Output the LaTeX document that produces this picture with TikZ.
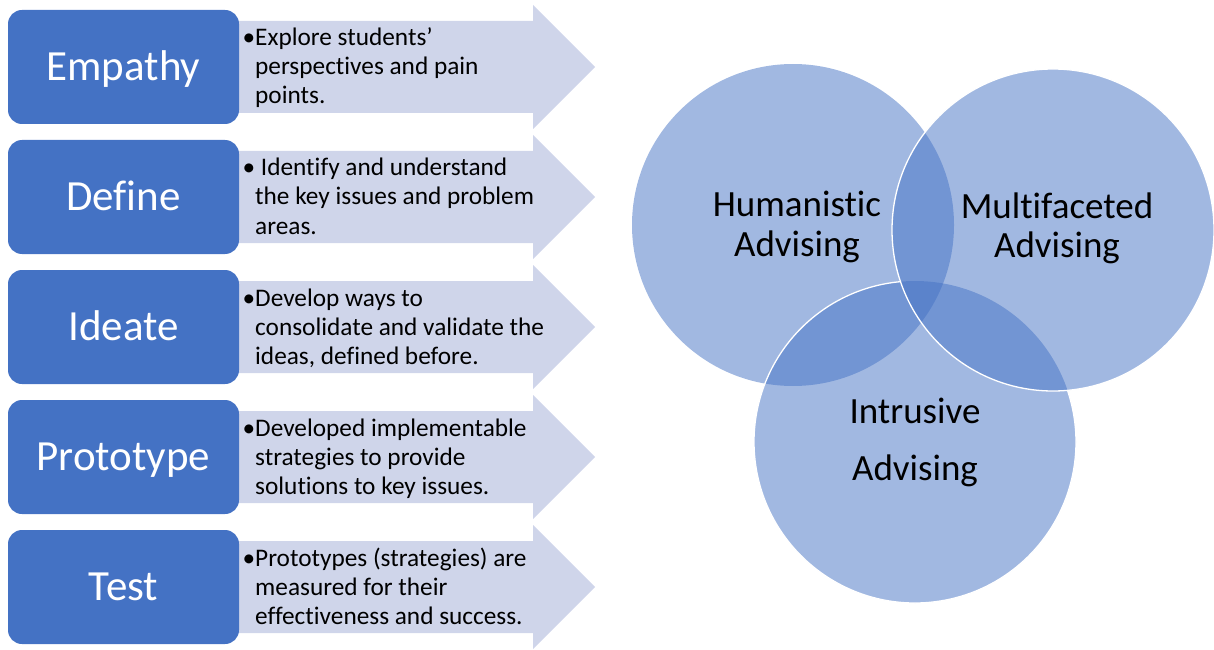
\documentclass[tikz,border=0pt]{standalone}
\usepackage{fontspec}
\setmainfont{Carlito}[Ligatures={NoCommon}]
\definecolor{stageblue}{HTML}{4472C4}
\definecolor{arrowtint}{HTML}{CFD5EA}
\tikzset{
  stagebox/.style={rectangle, rounded corners=14pt, fill=stageblue, text=white,
    minimum width=231pt, minimum height=114pt, inner sep=0pt,
    text height=27.5pt, text depth=0pt, font=\fontsize{43}{47}\selectfont},
  arrowbody/.style={fill=arrowtint},
  desc/.style={anchor=base west, inner sep=0pt, text=black,
    font=\fontsize{25.3}{29}\selectfont},
  venn/.style={circle, minimum size=322pt, inner sep=0pt,
    fill=stageblue, fill opacity=0.5},
  ring/.style={draw=white, line width=1.3pt},
  vlabel/.style={anchor=base, inner sep=0pt, text=black,
    font=\fontsize{37}{39}\selectfont}
}
% chevron-shaped banner behind each stage box, centred at height #1
\newcommand{\stagearrow}[1]{%
  \fill[arrowbody] (239,#1+46) -- (533,#1+46) -- (533,#1+62) -- (595,#1)
    -- (533,#1-62) -- (533,#1-46) -- (239,#1-46) -- cycle;}
% hanging bullet in front of the first line of a banner text
\newcommand{\hbul}{\leavevmode\llap{•}}
\begin{document}
\begin{tikzpicture}[x=1pt,y=1pt]
\useasboundingbox (0,0) rectangle (1214,649);

% banners
\stagearrow{582}
\stagearrow{452}
\stagearrow{322}
\stagearrow{192}
\stagearrow{62}

% stage boxes
\node[stagebox] (empathy)   at (123.5,582) {Empathy};
\node[stagebox] (define)    at (123.5,452) {Define};
\node[stagebox] (ideate)    at (123.5,322) {Ideate};
\node[stagebox] (prototype) at (123.5,192) {Prototype};
\node[stagebox] (test)      at (123.5,62)  {Test};

% banner texts
\node[desc] (d-empathy) at (255,603) {\parbox[t]{330pt}{\hbul Explore students’\\perspectives and pain\\points.}};
\node[desc] (d-define) at (255,473) {\parbox[t]{330pt}{\hbul\ Identify and understand\\the key issues and problem\\areas.}};
\node[desc] (d-ideate) at (255,343) {\parbox[t]{330pt}{\hbul Develop ways to\\consolidate and validate the\\ideas, defined before.}};
\node[desc] (d-prototype) at (255,213) {\parbox[t]{330pt}{\hbul Developed implementable\\strategies to provide\\solutions to key issues.}};
\node[desc] (d-test) at (255,83) {\parbox[t]{330pt}{\hbul Prototypes (strategies) are\\measured for their\\effectiveness and success.}};

% three overlapping advising circles
\node[venn] (humanistic)   at (793,424) {};
\node[venn] (intrusive)    at (915,207) {};
\node[venn, ring] (multifaceted) at (1053,419) {};
% white rim of the lower circle where it is not under the right one
\draw[ring] (intrusive.center) ++(95.2:161pt)
  arc[start angle=95.2, end angle=378.7, radius=161pt];

% circle labels
\node[vlabel] (l-humanistic) at (797,432) {\parbox[t]{220pt}{\centering Humanistic\\Advising}};
\node[vlabel] (l-multifaceted) at (1057,431) {\parbox[t]{220pt}{\centering Multifaceted\\Advising}};
\node[vlabel] (l-intrusive) at (915,226) {\parbox[t]{220pt}{\centering Intrusive\\[18pt]Advising}};
\end{tikzpicture}
\end{document}
